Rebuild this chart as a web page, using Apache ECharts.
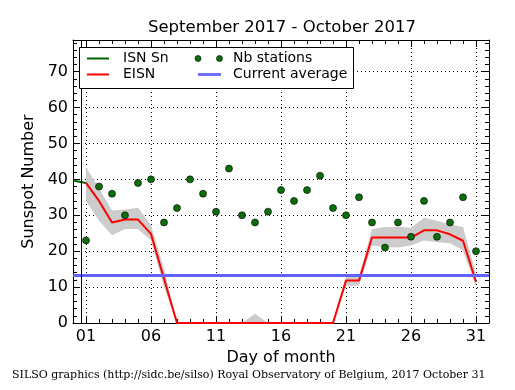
<!DOCTYPE html>
<html><head><meta charset="utf-8">
<script src="https://cdn.jsdelivr.net/npm/echarts@6/dist/echarts.min.js"></script>
<style>html,body{margin:0;padding:0;background:#fff}#c{width:515px;height:390px}</style>
</head><body><div id="c"></div>
<script>
// ---- data ----
const days = [1,2,3,4,5,6,7,8,9,10,11,12,13,14,15,16,17,18,19,20,21,22,23,24,25,26,27,28,29,30,31];
const eisn = [39,34,28,28.8,28.8,24.8,12.3,0,0,0,0,0,0,0,0,0,0,0,0,0,11.8,11.8,23.8,23.8,23.8,23.8,25.8,25.8,24.7,22.9,11.5];
const bandHigh = [43.4,37.5,31.3,31.6,32.1,27.2,15,0,0,0,0,0,0,2.6,0,0,0,0,0,0,12.8,12.8,26.2,26.7,26.8,26.5,29.3,28.5,27.4,26.7,13.7];
const bandLow = [34.1,28.5,24.4,26.2,26.2,23,10,0,0,0,0,0,0,0,0,0,0,0,0,0,10.4,10.4,21.6,21.1,21,21.6,23,22.5,22.2,20.2,10];
const stations = [23,38,36,30,39,40,28,32,40,36,31,43,30,28,31,37,34,37,41,32,30,35,28,21,28,24,34,24,28,35,20];
const isnDays = [0,1];
const isnValues = [39.7,39];
const currentAverage = 13.4;
const monthStartLine = 0.62;
const xTickLabels = ['01','06','11','16','21','26','31'];
const yTickLabels = ['0','10','20','30','40','50','60','70'];
const xMin = 0, xMax = 32, yMin = 0, yMax = 78.8;

// ---- derived ----
const majorX = xTickLabels.map(Number);
const minorX = days;
const majorY = yTickLabels.map(Number);
const minorY = []; for (let v = 0; v <= 78; v += 2) minorY.push(v);
const FONT = 'DejaVu Sans';

function xAx(pos, major, labels) {
  return {
    type:'value', min:xMin, max:xMax, position:pos,
    axisLine:{show:major, onZero:false, lineStyle:{color:'#000', width:1}},
    axisTick:{show:true, inside:true, length: major ? 7 : 4, customValues: major ? majorX : minorX, lineStyle:{color:'#000', width:1}},
    axisLabel:labels ? {show:true, customValues: majorX, formatter: v => xTickLabels[majorX.indexOf(v)], color:'#000', fontSize:16, fontFamily:FONT, margin:6} : {show:false},
    splitLine:{show: !!labels, lineStyle:{color:'#000', type:[1,3], width:1}},
    name: labels ? 'Day of month' : '', nameLocation:'middle', nameGap:25,
    nameTextStyle:{color:'#000', fontSize:16, fontFamily:FONT}
  };
}
function yAx(pos, major, labels) {
  return {
    type:'value', min:yMin, max:yMax, position:pos,
    axisLine:{show:major, onZero:false, lineStyle:{color:'#000', width:1}},
    axisTick:{show:true, inside:true, length: major ? 7 : 4, customValues: major ? majorY : minorY, lineStyle:{color:'#000', width:1}},
    axisLabel:labels ? {show:true, customValues: majorY, formatter: v => yTickLabels[majorY.indexOf(v)], color:'#000', fontSize:16, fontFamily:FONT, margin:5} : {show:false},
    splitLine:{show: !!labels, lineStyle:{color:'#000', type:[1,3], width:1}},
    name: labels ? 'Sunspot Number' : '', nameLocation:'middle', nameGap:33,
    nameTextStyle:{color:'#000', fontSize:16, fontFamily:FONT}
  };
}

function renderBand(params, api) {
  if (params.dataIndex !== 0) return null;
  const pts = [];
  for (let i = 0; i < days.length; i++) pts.push(api.coord([days[i], bandHigh[i]]));
  for (let i = days.length - 1; i >= 0; i--) pts.push(api.coord([days[i], bandLow[i]]));
  return {type:'polygon', shape:{points:pts}, style:{fill:'#cccccc', stroke:'none'}};
}

const chart = echarts.init(document.getElementById('c'), null, {renderer:'canvas'});
chart.setOption({
  animation:false,
  backgroundColor:'#fff',
  title:{text:'September 2017 - October 2017', left:277, top:14, textAlign:'center',
    textStyle:{color:'#000', fontSize:16.5, fontWeight:'normal', fontFamily:FONT}},
  grid:{left:73, right:26, top:40, bottom:67, containLabel:false},
  xAxis:[xAx('bottom', true, true), xAx('bottom', false, false), xAx('top', true, false), xAx('top', false, false)],
  yAxis:[yAx('left', true, true), yAx('left', false, false), yAx('right', true, false), yAx('right', false, false)],
  series:[
    {type:'custom', name:'band', data: days.map((d,i)=>[d, bandLow[i], bandHigh[i]]), renderItem: renderBand,
      encode:{x:0, y:[1,2]}, clip:true, z:1, silent:true},
    {type:'line', name:'Current average', data:[], symbol:'none', z:3,
      markLine:{silent:true, symbol:'none', label:{show:false},
        lineStyle:{color:'#6262ff', width:3, type:'solid'},
        data:[{yAxis: currentAverage}]}},
    {type:'line', name:'ISN Sn', data: isnDays.map((d,i)=>[d, isnValues[i]]), symbol:'none',
      lineStyle:{color:'#006400', width:2}, z:4,
      markLine:{silent:true, symbol:'none', label:{show:false},
        lineStyle:{color:'#000', width:1, type:'solid'},
        data:[{xAxis: monthStartLine}]}},
    {type:'line', name:'EISN', data: days.map((d,i)=>[d, eisn[i]]), symbol:'none',
      lineStyle:{color:'#ff0000', width:2}, z:4},
    {type:'scatter', name:'Nb stations', data: days.map((d,i)=>[d, stations[i]]), symbol:'circle', symbolSize:7,
      itemStyle:{color:'#0b6e0b', borderColor:'#000', borderWidth:0.6, opacity:1}, z:5}
  ],
  graphic:[
    {type:'rect', shape:{x:79.5, y:47.5, width:274, height:41}, style:{fill:'#fff', stroke:'#000', lineWidth:1}, z:100},
    {type:'line', shape:{x1:87, y1:58.5, x2:109, y2:58.5}, style:{stroke:'#006400', lineWidth:2}, z:101},
    {type:'text', x:123, y:58.5, style:{text:'ISN Sn', font:'14px "DejaVu Sans"', fill:'#000', verticalAlign:'middle'}, z:101},
    {type:'line', shape:{x1:87, y1:74.5, x2:109, y2:74.5}, style:{stroke:'#ff0000', lineWidth:2}, z:101},
    {type:'text', x:123, y:74.5, style:{text:'EISN', font:'14px "DejaVu Sans"', fill:'#000', verticalAlign:'middle'}, z:101},
    {type:'circle', shape:{cx:198, cy:58.5, r:3}, style:{fill:'#0b6e0b', stroke:'#000', lineWidth:0.6}, z:101},
    {type:'circle', shape:{cx:219.5, cy:58.5, r:3}, style:{fill:'#0b6e0b', stroke:'#000', lineWidth:0.6}, z:101},
    {type:'text', x:233, y:58.5, style:{text:'Nb stations', font:'14px "DejaVu Sans"', fill:'#000', verticalAlign:'middle'}, z:101},
    {type:'line', shape:{x1:198, y1:74.5, x2:221, y2:74.5}, style:{stroke:'#7070ff', lineWidth:3}, z:101},
    {type:'text', x:233, y:74.5, style:{text:'Current average', font:'14px "DejaVu Sans"', fill:'#000', verticalAlign:'middle'}, z:101},
    {type:'text', x:12, y:375, style:{text:'SILSO graphics (http://sidc.be/silso) Royal Observatory of Belgium, 2017 October 31', font:'11px "DejaVu Serif"', fill:'#000', verticalAlign:'middle'}, z:101}
  ]
});
</script></body></html>
